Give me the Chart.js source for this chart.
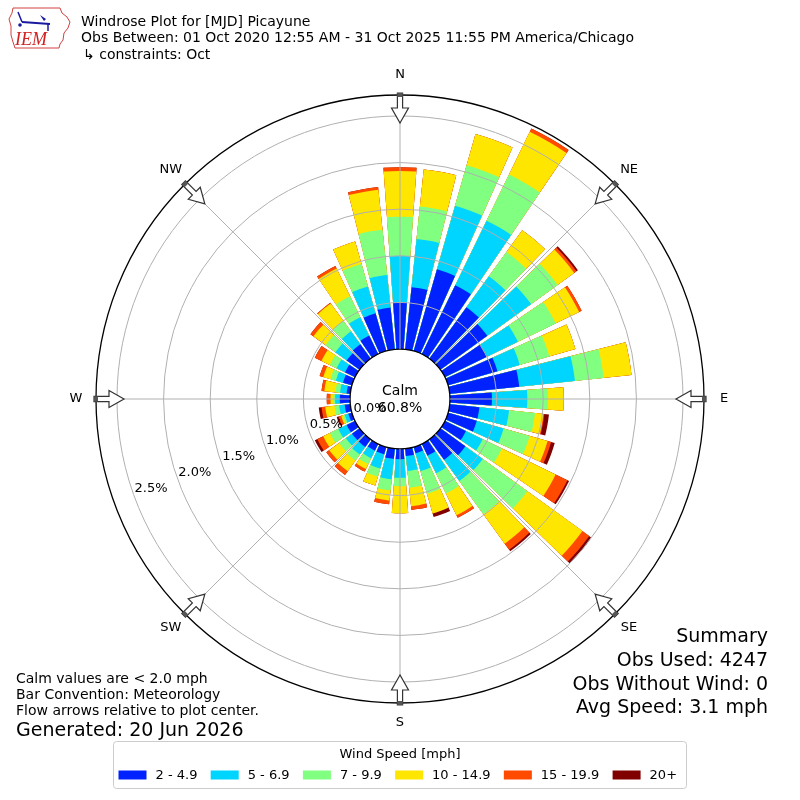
<!DOCTYPE html>
<html><head><meta charset="utf-8">
<script src="https://cdn.jsdelivr.net/npm/chart.js@4.4.1/dist/chart.umd.min.js"></script>
<style>html,body{margin:0;padding:0;background:#fff;}canvas{display:block;}</style>
</head><body>
<canvas id="c" width="800" height="800"></canvas>
<script>
// ---- data (percent of observations, per direction, per speed bin) ----
const DIRECTIONS = [0,10,20,30,40,50,60,70,80,90,100,110,120,130,140,150,160,170,180,190,200,210,220,230,240,250,260,270,280,290,300,310,320,330,340,350];
const SPEED_BINS = ['2 - 4.9','5 - 6.9','7 - 9.9','10 - 14.9','15 - 19.9','20+'];
const BIN_COLORS = ['#0022ff','#00d5ff','#80ff80','#ffe600','#ff4a00','#800000'];
const BIN_2_5   = [0.50,0.67,0.91,0.82,0.68,0.62,0.50,0.55,0.75,0.45,0.32,0.32,0.25,0.33,0.27,0.14,0.07,0.08,0.11,0.11,0.08,0.08,0.10,0.10,0.10,0.04,0.06,0.11,0.04,0.10,0.12,0.17,0.19,0.22,0.42,0.45];
const BIN_5_7   = [0.50,0.52,0.71,0.77,0.41,0.58,0.37,0.25,0.60,0.38,0.32,0.30,0.20,0.23,0.28,0.21,0.20,0.16,0.20,0.22,0.16,0.09,0.10,0.08,0.10,0.04,0.06,0.05,0.07,0.08,0.10,0.15,0.17,0.22,0.30,0.35];
const BIN_7_10  = [0.42,0.35,0.45,0.55,0.32,0.35,0.45,0.33,0.31,0.22,0.28,0.29,0.23,0.59,0.44,0.24,0.25,0.18,0.09,0.12,0.09,0.07,0.08,0.09,0.10,0.02,0.05,0.02,0.05,0.06,0.08,0.13,0.14,0.25,0.25,0.49];
const BIN_10_15 = [0.49,0.40,0.35,0.51,0.29,0.22,0.28,0.29,0.30,0.17,0.09,0.20,0.64,0.73,0.39,0.26,0.22,0.20,0.29,0.11,0.10,0.06,0.14,0.13,0.08,0.02,0.10,0.03,0.12,0.08,0.10,0.16,0.23,0.33,0.25,0.43];
const BIN_15_20 = [0.04,0,0,0.04,0,0.03,0.03,0,0,0,0.01,0.04,0.14,0.09,0.08,0.03,0,0.04,0,0.04,0,0.03,0.05,0.04,0.07,0.03,0.04,0.04,0.03,0.04,0.08,0.04,0.01,0.03,0,0.03];
const BIN_20P   = [0,0,0,0,0,0.02,0,0,0,0,0.05,0.04,0.02,0.03,0.02,0,0.04,0,0,0,0,0,0,0,0.03,0.02,0.03,0,0,0,0,0,0,0,0,0];
const RING_TICKS = [0,0.5,1.0,1.5,2.0,2.5];
const CALM_PCT = 60.8;
const COMPASS = ['N','NE','E','SE','S','SW','W','NW'];
const TITLE_LINES = ['Windrose Plot for [MJD] Picayune','Obs Between: 01 Oct 2020 12:55 AM - 31 Oct 2025 11:55 PM America/Chicago','\u21b3 constraints: Oct'];
const SUMMARY_LINES = ['Summary','Obs Used: 4247','Obs Without Wind: 0','Avg Speed: 3.1 mph'];
const NOTE_LINES = ['Calm values are < 2.0 mph','Bar Convention: Meteorology','Flow arrows relative to plot center.'];
const GENERATED = 'Generated: 20 Jun 2026';
const LEGEND_TITLE = 'Wind Speed [mph]';

// ---- geometry of the polar axis ----
const R_MIN = -0.536, R_MAX = 2.725;
const BAR_DEG = 8.2, GAP_DEG = 10 - 8.2;
const FONT = '"DejaVu Sans", sans-serif';

const BINS = [BIN_2_5, BIN_5_7, BIN_7_10, BIN_10_15, BIN_15_20, BIN_20P];
const cumulative = BINS.map((_, k) => DIRECTIONS.map((d, i) => {
  let s = 0; for (let j = 0; j <= k; j++) s += BINS[j][i]; return s;
}));
const labels = [];
DIRECTIONS.forEach(d => { labels.push(String(d)); labels.push(''); });
const datasets = SPEED_BINS.map((name, k) => {
  const data = [];
  DIRECTIONS.forEach((d, i) => { data.push(cumulative[k][i]); data.push(R_MIN); });
  return {
    label: name, data,
    backgroundColor: BIN_COLORS[k],
    borderWidth: 0,
    angle: ctx => (ctx.dataIndex % 2 === 0 ? BAR_DEG : GAP_DEG)
  };
});

function drawLogo(ctx) {
  ctx.save();
  ctx.strokeStyle = '#d04040'; ctx.lineWidth = 1;
  ctx.beginPath();
  ctx.moveTo(13,8); ctx.lineTo(60,8); ctx.lineTo(62,13); ctx.lineTo(67,17); ctx.lineTo(70,22);
  ctx.lineTo(68,28); ctx.lineTo(64,33); ctx.lineTo(63,40); ctx.lineTo(60,44); ctx.lineTo(59,48);
  ctx.lineTo(15,48); ctx.lineTo(13,42); ctx.lineTo(11,35); ctx.lineTo(11,26); ctx.lineTo(9,19); ctx.lineTo(12,13); ctx.closePath();
  ctx.stroke();
  ctx.strokeStyle = '#1a1aa0'; ctx.fillStyle = '#1a1aa0'; ctx.lineWidth = 2;
  ctx.beginPath(); ctx.moveTo(22,22); ctx.lineTo(50,24); ctx.stroke();
  ctx.lineWidth = 1.5;
  ctx.beginPath(); ctx.moveTo(18,12); ctx.lineTo(22,22); ctx.stroke();
  ctx.beginPath(); ctx.moveTo(40,15); ctx.lineTo(46,19); ctx.lineTo(44,21); ctx.closePath(); ctx.fill();
  ctx.beginPath(); ctx.moveTo(48,24); ctx.lineTo(48,31); ctx.stroke();
  ctx.beginPath(); ctx.arc(20,25,1.8,0,Math.PI*2); ctx.fill();
  ctx.fillStyle = '#d02020';
  ctx.font = 'italic 18px "Liberation Serif", serif';
  ctx.textBaseline = 'alphabetic'; ctx.textAlign = 'left';
  ctx.fillText('IEM', 15, 45);
  ctx.restore();
}

const overlay = {
  id: 'overlay',
  afterDatasetsDraw(chart) {
    const s = chart.scales.r, ctx = chart.ctx;
    const r0 = s.getDistanceFromCenterForValue(0);
    ctx.save();
    ctx.beginPath(); ctx.arc(s.xCenter, s.yCenter, r0, 0, Math.PI * 2);
    ctx.fillStyle = '#fff'; ctx.fill();
    ctx.restore();
  },
  afterDraw(chart) {
    const s = chart.scales.r, ctx = chart.ctx;
    const cx = s.xCenter, cy = s.yCenter;
    const r0 = s.getDistanceFromCenterForValue(0);
    const R = s.getDistanceFromCenterForValue(R_MAX);
    ctx.save();
    // angle lines
    ctx.strokeStyle = '#b0b0b0'; ctx.lineWidth = 1;
    COMPASS.forEach((c, i) => {
      const a = i * 45 * Math.PI / 180;
      const ux = Math.sin(a), uy = -Math.cos(a);
      ctx.beginPath(); ctx.moveTo(cx + r0 * ux, cy + r0 * uy); ctx.lineTo(cx + R * ux, cy + R * uy); ctx.stroke();
    });
    // arrows + compass labels
    COMPASS.forEach((c, i) => {
      const a = i * 45 * Math.PI / 180;
      const ux = Math.sin(a), uy = -Math.cos(a), px = Math.cos(a), py = Math.sin(a);
      const P = (r, w) => [cx + r * ux + w * px, cy + r * uy + w * py];
      const tip = R - 28, base = R - 13, tail = R + 2;
      const pts = [P(tip,0), P(base,8.5), P(base,2.6), P(tail,2.6), P(tail,-2.6), P(base,-2.6), P(base,-8.5)];
      ctx.beginPath(); ctx.moveTo(pts[0][0], pts[0][1]);
      for (let k = 1; k < pts.length; k++) ctx.lineTo(pts[k][0], pts[k][1]);
      ctx.closePath();
      ctx.fillStyle = '#fff'; ctx.fill();
      ctx.strokeStyle = '#333'; ctx.lineWidth = 1.2; ctx.stroke();
      const q = [P(tail,2.6), P(tail,-2.6), P(tail-4,-2.6), P(tail-4,2.6)];
      ctx.beginPath(); ctx.moveTo(q[0][0], q[0][1]); q.slice(1).forEach(p => ctx.lineTo(p[0], p[1])); ctx.closePath();
      ctx.fillStyle = '#555'; ctx.fill();
      const L = P(R + 20, 0);
      ctx.fillStyle = '#000'; ctx.font = '13px ' + FONT; ctx.textAlign = 'center'; ctx.textBaseline = 'middle';
      ctx.fillText(c, L[0], L[1]);
    });
    // ring labels
    ctx.fillStyle = '#000'; ctx.font = '13px ' + FONT; ctx.textAlign = 'center'; ctx.textBaseline = 'middle';
    const la = 20 * Math.PI / 180;
    RING_TICKS.forEach(v => {
      const r = s.getDistanceFromCenterForValue(v);
      ctx.fillText(v.toFixed(1) + '%', cx - r * Math.cos(la) + 17, cy + r * Math.sin(la) - 7);
    });
    // calm
    ctx.font = '14px ' + FONT;
    ctx.fillText('Calm', cx, cy - 8);
    ctx.fillText(CALM_PCT.toFixed(1) + '%', cx, cy + 9);
    // title
    ctx.textAlign = 'left'; ctx.textBaseline = 'alphabetic'; ctx.font = '14px ' + FONT;
    ctx.fillText(TITLE_LINES[0], 81, 25.5);
    ctx.fillText(TITLE_LINES[1], 81, 42);
    ctx.fillText(TITLE_LINES[2], 83, 58.5);
    drawLogo(ctx);
    // summary
    ctx.textAlign = 'right'; ctx.font = '19px ' + FONT;
    [642, 666, 690, 713].forEach((y, i) => ctx.fillText(SUMMARY_LINES[i], 768, y));
    // notes
    ctx.textAlign = 'left'; ctx.font = '14px ' + FONT;
    [683, 698.5, 715].forEach((y, i) => ctx.fillText(NOTE_LINES[i], 16, y));
    ctx.font = '19px ' + FONT;
    ctx.fillText(GENERATED, 16, 736);
    // legend
    ctx.beginPath();
    if (ctx.roundRect) ctx.roundRect(113.5, 741.5, 573, 47, 3); else ctx.rect(113.5, 741.5, 573, 47);
    ctx.fillStyle = 'rgba(255,255,255,0.9)'; ctx.fill();
    ctx.strokeStyle = '#cccccc'; ctx.lineWidth = 1; ctx.stroke();
    ctx.fillStyle = '#000'; ctx.font = '13px ' + FONT; ctx.textAlign = 'center';
    ctx.fillText(LEGEND_TITLE, 400, 757.5);
    ctx.textAlign = 'left';
    let x = 118.5;
    SPEED_BINS.forEach((name, k) => {
      ctx.fillStyle = BIN_COLORS[k]; ctx.fillRect(x, 770.5, 28, 9);
      ctx.fillStyle = '#000'; ctx.fillText(name, x + 37, 779);
      x += 37 + ctx.measureText(name).width + 13.3;
    });
    ctx.restore();
  }
};

new Chart(document.getElementById('c'), {
  type: 'polarArea',
  data: { labels, datasets },
  options: {
    responsive: false, animation: false, events: [],
    layout: { padding: { left: 96, right: 96, top: 95, bottom: 97 } },
    plugins: { legend: { display: false }, tooltip: { enabled: false } },
    scales: {
      r: {
        type: 'radialLinear', min: R_MIN, max: R_MAX,
        startAngle: -BAR_DEG / 2,
        ticks: { display: false },
        afterBuildTicks: sc => { sc.ticks = [R_MIN, ...RING_TICKS, R_MAX].map(v => ({ value: v })); },
        grid: {
          circular: true, z: 1,
          color: c => { const v = c.tick ? c.tick.value : null; if (v === R_MIN) return 'rgba(0,0,0,0)'; return (v === 0 || v === R_MAX) ? '#000' : '#b0b0b0'; },
          lineWidth: c => { const v = c.tick ? c.tick.value : null; return (v === 0 || v === R_MAX) ? 1.3 : 1; }
        },
        angleLines: { display: false },
        pointLabels: { display: false }
      }
    }
  },
  plugins: [overlay]
});
</script>
</body></html>
